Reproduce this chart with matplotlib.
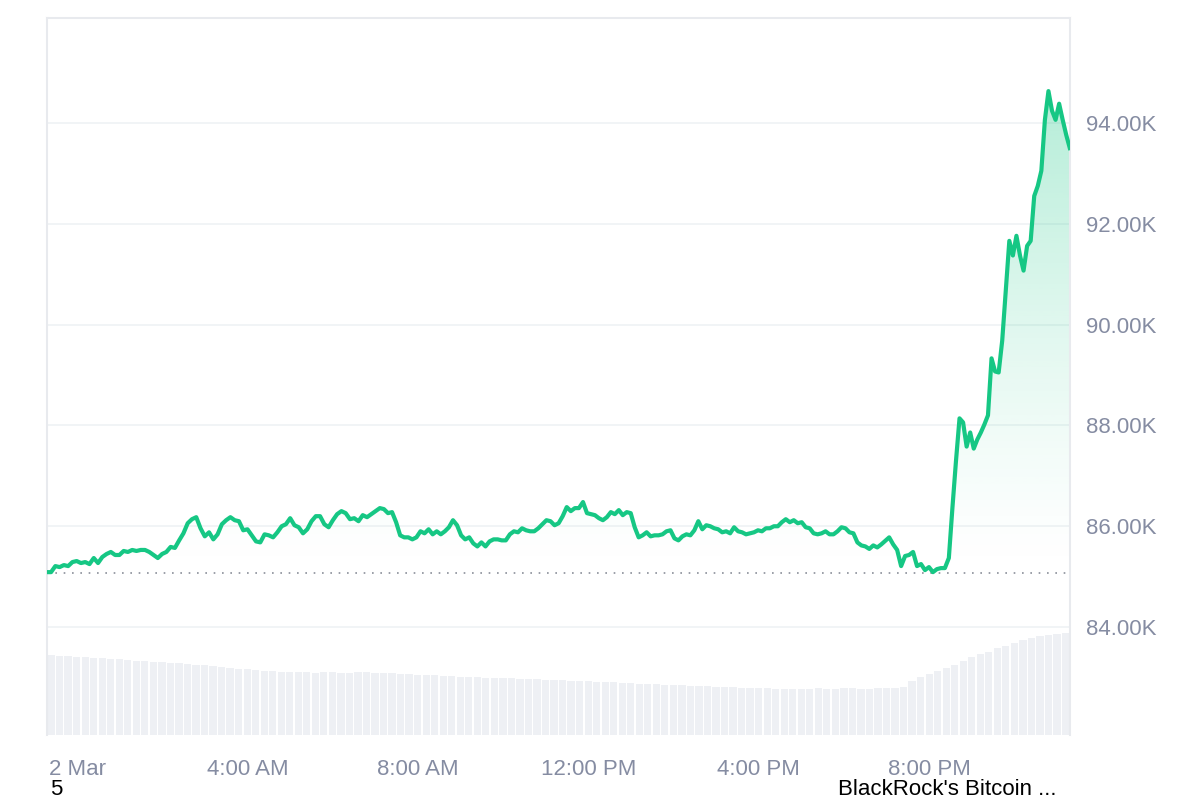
import numpy as np
import matplotlib.pyplot as plt
from matplotlib.patches import Polygon

plt.rcParams["font.family"] = ["Liberation Sans", "DejaVu Sans"]

# ==========================================================
# Data (price in thousands USD, hours from midnight 2 Mar)
# ==========================================================

price_k = [
    85.09, 85.09, 85.21, 85.19, 85.23, 85.21, 85.29, 85.31, 85.27, 85.29,
    85.25, 85.37, 85.27, 85.39, 85.45, 85.49, 85.43, 85.43, 85.51, 85.49,
    85.53, 85.51, 85.53, 85.53, 85.49, 85.43, 85.37, 85.45, 85.49, 85.59,
    85.57, 85.72, 85.86, 86.06, 86.14, 86.18, 85.96, 85.80, 85.88, 85.74,
    85.84, 86.04, 86.12, 86.18, 86.12, 86.10, 85.92, 85.94, 85.82, 85.70,
    85.68, 85.84, 85.82, 85.78, 85.88, 86.00, 86.04, 86.16, 86.02, 85.98,
    85.86, 85.94, 86.10, 86.20, 86.20, 86.04, 85.98, 86.12, 86.24, 86.30,
    86.26, 86.14, 86.16, 86.10, 86.22, 86.18, 86.24, 86.30, 86.36, 86.34,
    86.26, 86.28, 86.08, 85.82, 85.78, 85.78, 85.74, 85.78, 85.90, 85.86,
    85.94, 85.84, 85.90, 85.84, 85.90, 85.98, 86.12, 86.02, 85.82, 85.74,
    85.78, 85.66, 85.60, 85.68, 85.60, 85.70, 85.74, 85.74, 85.72, 85.72,
    85.84, 85.90, 85.88, 85.96, 85.92, 85.90, 85.90, 85.96, 86.04, 86.12,
    86.10, 86.02, 86.06, 86.20, 86.38, 86.30, 86.36, 86.36, 86.48, 86.26,
    86.24, 86.22, 86.16, 86.12, 86.18, 86.28, 86.24, 86.32, 86.22, 86.28,
    86.26, 85.98, 85.78, 85.82, 85.88, 85.80, 85.82, 85.82, 85.84, 85.90,
    85.92, 85.76, 85.72, 85.80, 85.84, 85.82, 85.92, 86.10, 85.94, 86.02,
    86.00, 85.96, 85.94, 85.88, 85.90, 85.86, 85.98, 85.90, 85.88, 85.84,
    85.86, 85.88, 85.92, 85.90, 85.96, 85.96, 86.00, 86.00, 86.08, 86.14,
    86.08, 86.12, 86.06, 86.08, 85.98, 85.96, 85.86, 85.84, 85.86, 85.90,
    85.84, 85.84, 85.90, 85.98, 85.96, 85.88, 85.86, 85.68, 85.62, 85.60,
    85.55, 85.62, 85.58, 85.64, 85.71, 85.78, 85.64, 85.53, 85.21, 85.41,
    85.43, 85.49, 85.21, 85.25, 85.13, 85.19, 85.09, 85.15, 85.17, 85.17,
    85.37, 86.36, 87.29, 88.14, 88.06, 87.58, 87.86, 87.54, 87.72, 87.86,
    88.02, 88.20, 89.33, 89.07, 89.05, 89.68, 90.67, 91.66, 91.37, 91.76,
    91.37, 91.07, 91.56, 91.66, 92.55, 92.75, 93.05, 94.06, 94.63, 94.24,
    94.06, 94.38, 94.06, 93.76, 93.50,
]

# sample index -> hour, read at a few recognisable points of the line
anchor_index = [0, 78, 128, 220, len(price_k) - 1]
anchor_hour = [-0.72, 7.10, 11.87, 20.46, 23.3]
hours = np.interp(np.arange(len(price_k)), anchor_index, anchor_hour)

start_hour = anchor_hour[0]
end_hour = anchor_hour[-1]

open_price_k = 85.08

volume = [
    80, 79, 79, 78, 78, 77, 77, 76, 76, 75, 74, 74, 73, 73, 72, 72, 71, 70,
    70, 69, 68, 67, 66, 66, 65, 64, 64, 63, 63, 63, 63, 62, 63, 63, 62, 62,
    63, 63, 62, 62, 62, 61, 61, 60, 60, 60, 59, 59, 58, 58, 58, 57, 57, 57,
    57, 56, 56, 56, 55, 55, 55, 54, 54, 54, 53, 53, 53, 52, 52, 51, 51, 51,
    50, 50, 50, 49, 49, 49, 48, 48, 48, 47, 47, 47, 47, 46, 46, 46, 46, 46,
    47, 46, 46, 47, 47, 46, 46, 47, 47, 47, 48, 54, 58, 61, 64, 67, 70, 74,
    78, 81, 83, 87, 89, 92, 95, 97, 99, 100, 101, 102,
]

tick_hours = [0, 4, 8, 12, 16, 20]
tick_labels = ["2 Mar", "4:00 AM", "8:00 AM", "12:00 PM", "4:00 PM", "8:00 PM"]
y_ticks = [84, 86, 88, 90, 92, 94]

GREEN = "#16c784"
GRAY_TEXT = "#858ca2"
GRID = "#eff2f5"

# ==========================================================
# Figure
# ==========================================================

fig = plt.figure(figsize=(12, 8), dpi=100)
ax = fig.add_axes([0.039, 0.08125, 0.8525, 0.89625])

ax.set_xlim(start_hour, end_hour)
ax.set_ylim(81.86, 96.08)

# volume bars on a hidden twin axis
vax = ax.twinx()
vax.set_ylim(0, 717)
vol_x = np.linspace(start_hour, end_hour, len(volume) + 1)[:-1]
step = vol_x[1] - vol_x[0]
vax.bar(vol_x + step / 2, volume, width=step * 0.85, color="#eef0f4", zorder=0)
vax.axis("off")
ax.set_zorder(vax.get_zorder() + 1)
ax.patch.set_visible(False)

# gradient fill under the line
grad = np.linspace(0, 1, 256).reshape(-1, 1)
cmap_vals = np.zeros((256, 1, 4))
cmap_vals[..., 0] = 0x16 / 255
cmap_vals[..., 1] = 0xc7 / 255
cmap_vals[..., 2] = 0x84 / 255
cmap_vals[..., 3] = (grad ** 1.3) * 0.32
img = ax.imshow(
    cmap_vals,
    extent=[start_hour, end_hour, open_price_k, max(price_k)],
    origin="lower",
    aspect="auto",
    zorder=1,
)
verts = [(start_hour, open_price_k)] + list(zip(hours, price_k)) + [(end_hour, open_price_k)]
clip = Polygon(verts, closed=True, facecolor="none", edgecolor="none")
ax.add_patch(clip)
img.set_clip_path(clip)

ax.axhline(open_price_k, color="#8a8f99", linestyle=(0, (1, 4)), linewidth=1.2, zorder=2)
ax.plot(hours, price_k, color=GREEN, linewidth=3, zorder=3, solid_joinstyle="round")

# grid and frame
for y in y_ticks:
    ax.axhline(y, color=GRID, linewidth=1.2, zorder=0)

for side in ["left", "right", "top"]:
    ax.spines[side].set_color("#e8eaee")
    ax.spines[side].set_linewidth(1.5)
ax.spines["bottom"].set_visible(False)

ax.yaxis.tick_right()
ax.set_yticks(y_ticks)
ax.set_yticklabels([f"{v:.2f}K" for v in y_ticks])
ax.set_xticks(tick_hours)
ax.set_xticklabels(tick_labels)
ax.tick_params(axis="both", length=0, labelsize=16, colors=GRAY_TEXT)
ax.tick_params(axis="y", pad=12)
ax.tick_params(axis="x", pad=17)

fig.text(0.042, 0.0, "5", fontsize=16, color="black", va="bottom")
fig.text(0.698, 0.0, "BlackRock's Bitcoin ...", fontsize=16, color="black", va="bottom")

fig.savefig("out.png", dpi=100)
